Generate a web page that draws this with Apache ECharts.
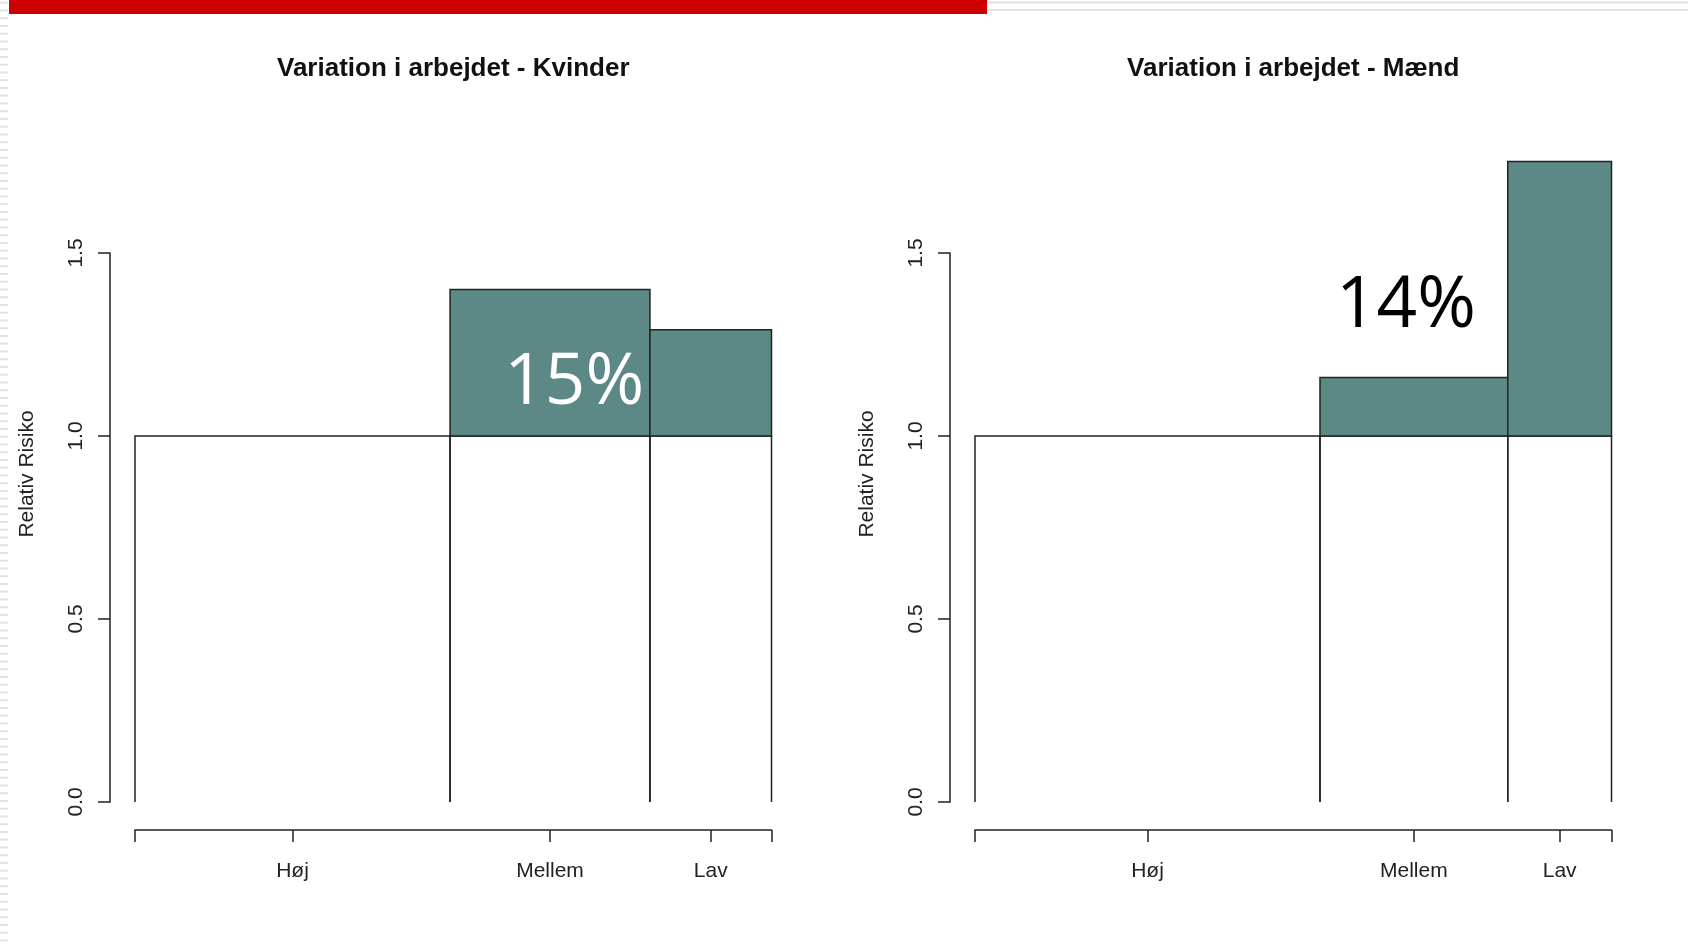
<!DOCTYPE html>
<html><head><meta charset="utf-8">
<script src="https://cdn.jsdelivr.net/npm/echarts@6/dist/echarts.min.js"></script>
<style>html,body{margin:0;padding:0;background:#fff}#c{width:1688px;height:948px}</style>
</head><body><div id="c"></div>
<script>
// ---- data ----
const categories = ['Høj', 'Mellem', 'Lav'];
const sharesKvinder = [0.495, 0.314, 0.191];   // bar widths (population shares)
const riskKvinder = [1.00, 1.40, 1.29];         // relative risk
const sharesMaend = [0.542, 0.295, 0.163];
const riskMaend = [1.00, 1.16, 1.75];
const yTickValues = [0, 0.5, 1.0, 1.5];
const titles = ['Variation i arbejdet - Kvinder', 'Variation i arbejdet - Mænd'];
const yName = 'Relativ Risiko';
const annotationTexts = ['15%', '14%'];
const annotationAt = [[0.69, 1.143], [0.677, 1.354]];

// ---- styles / layout ----
const TEAL = '#5c8885';
const INK = '#222222';
const panels = [
  { left: 135, shares: sharesKvinder, risk: riskKvinder, annColor: '#ffffff' },
  { left: 975, shares: sharesMaend, risk: riskMaend, annColor: '#000000' }
];
const GW = 636.5, GTOP = 253, GH = 549;

function buildBars(shares, risk) {
  let acc = 0;
  return shares.map((s, i) => { const a = acc; acc += s; return [a, acc, risk[i]]; });
}
function mids(shares) {
  let acc = 0;
  return shares.map(s => { const m = acc + s / 2; acc += s; return m; });
}

const grids = [], xAxes = [], yAxes = [], series = [], graphics = [];
panels.forEach((p, k) => {
  grids.push({ left: p.left, top: GTOP, width: GW, height: GH, outerBoundsMode: 'none' });
  const m = mids(p.shares);
  xAxes.push({
    type: 'value', gridIndex: k, min: 0, max: 1, offset: 28, position: 'bottom',
    axisLine: { show: true, onZero: false, lineStyle: { color: INK, width: 1.5 } },
    axisTick: { show: true, length: 12, customValues: [0].concat(m, [1]), lineStyle: { color: INK, width: 1.5 } },
    axisLabel: {
      show: true, customValues: m, margin: 31, fontSize: 21, color: INK,
      fontFamily: 'Liberation Sans, Arial, sans-serif',
      formatter: v => { let bi = 0; m.forEach((mm, i) => { if (Math.abs(mm - v) < Math.abs(m[bi] - v)) bi = i; }); return categories[bi]; }
    },
    splitLine: { show: false }
  });
  yAxes.push({
    type: 'value', gridIndex: k, min: 0, max: 1.5, interval: 0.5, offset: 25, position: 'left',
    axisLine: { show: true, onZero: false, lineStyle: { color: INK, width: 1.5 } },
    axisTick: { show: true, length: 12, customValues: yTickValues, lineStyle: { color: INK, width: 1.5 } },
    axisLabel: { show: true, customValues: yTickValues, rotate: 90, margin: 23, fontSize: 21, color: INK,
      fontFamily: 'Liberation Sans, Arial, sans-serif', formatter: v => v.toFixed(1) },
    splitLine: { show: false }
  });
  series.push({
    type: 'custom', xAxisIndex: k, yAxisIndex: k, clip: false, silent: true,
    data: buildBars(p.shares, p.risk),
    encode: { x: [0, 1], y: 2 },
    renderItem: (params, api) => {
      const x0 = api.value(0), x1 = api.value(1), v = api.value(2);
      const bl = api.coord([x0, 0]), tl = api.coord([x0, 1]), tr = api.coord([x1, 1]), br = api.coord([x1, 0]);
      const children = [{
        type: 'polyline', shape: { points: [bl, tl, tr, br] },
        style: { stroke: INK, lineWidth: 1.5, fill: null }
      }];
      if (v > 1) {
        const top = api.coord([x0, v]);
        children.push({
          type: 'rect', shape: { x: tl[0], y: top[1], width: tr[0] - tl[0], height: tl[1] - top[1] },
          style: { fill: TEAL, stroke: INK, lineWidth: 1.5 }
        });
      }
      return { type: 'group', children };
    }
  });
  series.push({
    type: 'scatter', xAxisIndex: k, yAxisIndex: k, silent: true, symbolSize: 0, z: 10,
    itemStyle: { opacity: 1 },
    data: [annotationAt[k]],
    label: { show: true, position: 'inside', formatter: annotationTexts[k], fontSize: 71,
      fontFamily: 'Open Sans, Lato, sans-serif', fontWeight: 'normal', color: p.annColor, opacity: 1 }
  });
  graphics.push({
    type: 'text', x: p.left + GW / 2, y: 69,
    style: { text: titles[k], fontSize: 26, fontWeight: 'bold', fill: '#111',
      fontFamily: 'Liberation Sans, Arial, sans-serif', textAlign: 'center', textVerticalAlign: 'middle' }
  });
  graphics.push({
    type: 'text', x: p.left - 25 - 83, y: 474, rotation: Math.PI / 2,
    style: { text: yName, fontSize: 21, fill: INK,
      fontFamily: 'Liberation Sans, Arial, sans-serif', textAlign: 'center', textVerticalAlign: 'middle' }
  });
});

// slide decorations
graphics.push({ type: 'rect', shape: { x: 9, y: 0, width: 978, height: 14 }, style: { fill: '#cc0000' } });
[2.5, 10].forEach(yy => graphics.push({ type: 'line', shape: { x1: 987, y1: yy, x2: 1688, y2: yy }, style: { stroke: '#e2e2e2', lineWidth: 2 } }));
for (let yy = 2.7; yy < 948; yy += 7.75) {
  graphics.push({ type: 'line', shape: { x1: 0, y1: yy, x2: 8, y2: yy }, style: { stroke: '#e2e2e2', lineWidth: 2 } });
}

const chart = echarts.init(document.getElementById('c'), null, { renderer: 'canvas' });
chart.setOption({
  animation: false,
  backgroundColor: '#ffffff',
  grid: grids, xAxis: xAxes, yAxis: yAxes, series: series,
  graphic: graphics
});
</script></body></html>
